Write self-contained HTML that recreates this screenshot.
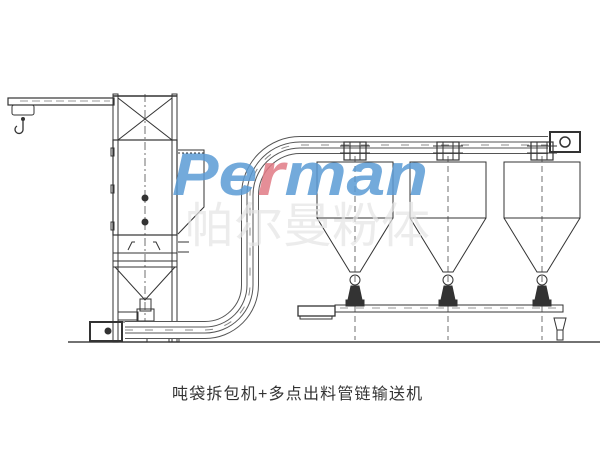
<!DOCTYPE html>
<html><head><meta charset="utf-8"><style>
html,body{margin:0;padding:0;background:#fff;width:600px;height:450px;overflow:hidden}
svg{display:block}
</style></head><body>
<svg width="600" height="450" viewBox="0 0 600 450" xmlns="http://www.w3.org/2000/svg" fill="none" stroke="#333" stroke-width="1">
<line x1="68" y1="342" x2="600" y2="342" stroke="#444" stroke-width="1.5"/>
<rect x="8" y="98" width="106" height="7" stroke-width="1.2"/>
<line x1="20" y1="101" x2="110" y2="101" stroke-dasharray="8 4" stroke-width="0.6"/>
<rect x="12" y="105" width="22" height="10" rx="2"/>
<circle cx="23" cy="119" r="1.5" fill="#333"/>
<path d="M23 121 v8 a4 4 0 1 1 -6 -3" stroke-width="1.3"/>
<rect x="113" y="94" width="5" height="248"/>
<rect x="172" y="94" width="5" height="248"/>
<line x1="113" y1="96" x2="177" y2="96" stroke-width="1.5"/>
<line x1="118" y1="98" x2="172" y2="140"/><line x1="172" y1="98" x2="118" y2="140"/>
<rect x="113" y="140" width="64" height="95" stroke-width="1.2"/>
<line x1="145" y1="94" x2="145" y2="330" stroke-dasharray="8 3 2 3" stroke-width="0.7"/>
<circle cx="145" cy="198" r="3" fill="#333"/><circle cx="145" cy="222" r="3" fill="#333"/>
<rect x="111" y="148" width="3" height="8"/><rect x="111" y="185" width="3" height="8"/><rect x="111" y="222" width="3" height="8"/>
<rect x="113" y="235" width="64" height="18"/>
<path d="M128 250 l4 -8 h3 M160 250 l-4 -8 h-3"/>
<rect x="113" y="253" width="64" height="8"/>
<rect x="113" y="261" width="64" height="6"/>
<path d="M115 267 L145 300 L175 267"/>
<rect x="140" y="299" width="11" height="12"/>
<rect x="137" y="309" width="17" height="12"/>
<rect x="118" y="312" width="20" height="8"/>
<rect x="90" y="322" width="32" height="19" stroke-width="2"/>
<circle cx="108" cy="331" r="3" fill="#333"/>
<rect x="122" y="322" width="25" height="20"/>
<rect x="169" y="336" width="10" height="6"/>
<path d="M178 150 h26 v57 l-26 27" stroke-width="1"/>
<line x1="178" y1="153" x2="204" y2="153" stroke-dasharray="2 2"/>
<line x1="178" y1="242" x2="189" y2="242"/><line x1="178" y1="252" x2="189" y2="252"/>
<path d="M125 330 H205 A45 45 0 0 0 250 285 V195 A50 50 0 0 1 300 145 H548" stroke="#555" stroke-width="18"/>
<path d="M125 330 H205 A45 45 0 0 0 250 285 V195 A50 50 0 0 1 300 145 H548" stroke="#fff" stroke-width="16"/>
<path d="M125 330 H205 A45 45 0 0 0 250 285 V195 A50 50 0 0 1 300 145 H548" stroke="#555" stroke-width="7"/>
<path d="M125 330 H205 A45 45 0 0 0 250 285 V195 A50 50 0 0 1 300 145 H548" stroke="#fff" stroke-width="5"/>
<path d="M125 330 H205 A45 45 0 0 0 250 285 V195 A50 50 0 0 1 300 145 H548" stroke="#888" stroke-width="1" stroke-dasharray="8 12"/>
<rect x="550" y="132" width="30" height="20" stroke-width="2"/>
<circle cx="565" cy="142" r="5" stroke-width="1.5"/>
<g id="silo">
<rect x="344" y="142" width="22" height="18" stroke-width="1.2"/>
<line x1="340" y1="146" x2="370" y2="146"/><line x1="340" y1="153" x2="370" y2="153"/>
<line x1="350" y1="142" x2="350" y2="160"/><line x1="360" y1="142" x2="360" y2="160"/>
<rect x="317" y="162" width="76" height="56"/>
<path d="M317 218 L350 272 h10 L393 218"/>
<line x1="355" y1="156" x2="355" y2="340" stroke-dasharray="6 4" stroke-width="0.7"/>
<circle cx="355" cy="280" r="5"/>
<path d="M348 300 l3 -14 h8 l3 14 z" fill="#333"/>
<rect x="346" y="300" width="18" height="6" fill="#333"/>
</g>
<use href="#silo" x="93"/>
<use href="#silo" x="187"/>
<rect x="335" y="305" width="228" height="7"/>
<line x1="340" y1="308" x2="560" y2="308" stroke-dasharray="8 8" stroke-width="0.6"/>
<rect x="298" y="306" width="37" height="10" stroke-width="1.3"/>
<rect x="300" y="316" width="32" height="3"/>
<path d="M554 318 h12 l-3 12 h-6 z"/><path d="M557 330 h6 v10 h-6 z"/>
<text x="172" y="195" textLength="256" lengthAdjust="spacingAndGlyphs" font-family="Liberation Sans, sans-serif" font-size="60" font-weight="bold" font-style="italic" fill="#5b9bd5" fill-opacity="0.85" stroke="none">Pe<tspan fill="#e07a85">r</tspan>man</text>
<text x="185" y="242" textLength="245" lengthAdjust="spacingAndGlyphs" font-family="Liberation Sans, Noto Sans CJK SC, sans-serif" font-size="48" fill="#e4e4e4" fill-opacity="0.7" stroke="none">帕尔曼粉体</text>
<text x="172" y="399" font-family="Liberation Sans, Noto Sans CJK SC, sans-serif" font-size="16" fill="#333" stroke="none" letter-spacing="1.2">吨袋拆包机+多点出料管链输送机</text>
</svg>
</body></html>
